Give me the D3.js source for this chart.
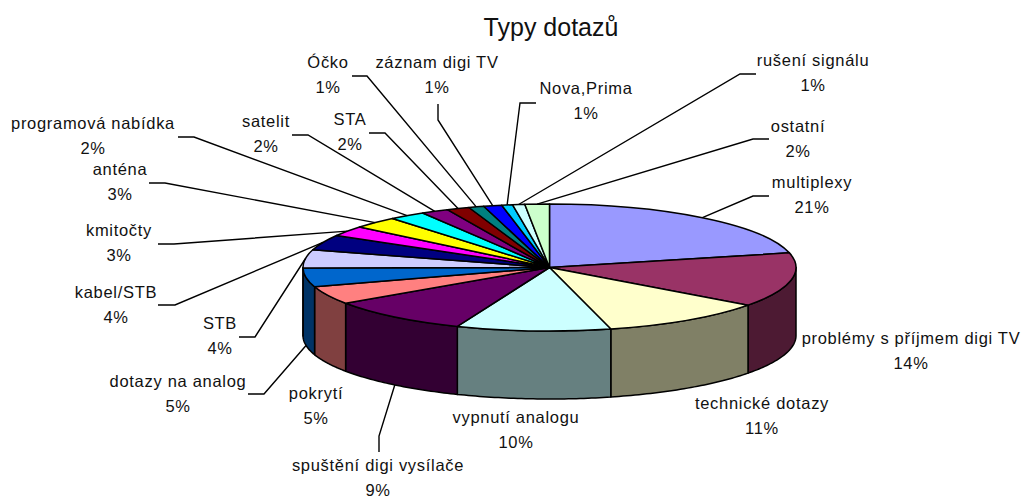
<!DOCTYPE html>
<html>
<head>
<meta charset="utf-8">
<script src="https://cdn.jsdelivr.net/npm/d3@7"></script>
<style>
  body { margin: 0; background: #fff; }
  svg { display: block; }
  text { font-family: "Liberation Sans", Arial, sans-serif; font-size: 16.5px; letter-spacing: 0.7px; fill: #111; text-anchor: middle; }
  .title { font-size: 25px; letter-spacing: 0; }
  .leader { fill: none; stroke: #000; stroke-width: 1.4; }
  .top, .wall { stroke: #000; stroke-width: 1.5; stroke-linejoin: round; }
  .top { vector-effect: non-scaling-stroke; }
</style>
</head>
<body>
<div id="chart"></div>
<script>
/* Typy dotazu - 3D pie */

const categories = ["multiplexy", "problémy s příjmem digi TV", "technické dotazy", "vypnutí analogu",
    "spuštění digi vysílače", "pokrytí", "dotazy na analog", "STB", "kabel/STB", "kmitočty", "anténa",
    "programová nabídka", "satelit", "STA", "Óčko", "záznam digi TV", "Nova,Prima", "rušení signálu", "ostatní"];
const shares = [21.3, 13.8, 10.9, 10.1, 9.4, 4.6, 4.8, 4.6, 3.9, 2.6, 3.0, 2.4, 1.8, 1.5, 1.0, 1.2, 0.7, 0.8, 1.6];
const percents = [21, 14, 11, 10, 9, 5, 5, 4, 4, 3, 3, 2, 2, 2, 1, 1, 1, 1, 2];
const colors = ["#9999ff", "#993366", "#ffffcc", "#ccffff", "#660066", "#ff8080", "#0066cc", "#ccccff", "#000080",
    "#ff00ff", "#ffff00", "#00ffff", "#800080", "#800000", "#008080", "#0000ff", "#00ccff", "#ccffff", "#ccffcc"];

const width = 1023, height = 500;
const cx = 549.5, cy = 267.5, rx = 246.5, ry = 63.5, depth = 68;

// label centre, then leader end + elbow (none for labels next to the pie), onWall = leader starts on the lower edge
const labelPos = [
    { x: 812, y: 182, end: [769, 196], elbow: [753, 196] },
    { x: 911, y: 338 },
    { x: 762, y: 403 },
    { x: 516, y: 417 },
    { x: 378, y: 465, end: [379, 452], elbow: [379, 436], onWall: true },
    { x: 316, y: 393 },
    { x: 178, y: 381, end: [248, 394], elbow: [264, 394], onWall: true },
    { x: 220, y: 323, end: [239, 337], elbow: [255, 337] },
    { x: 116, y: 292, end: [158, 305], elbow: [175, 305] },
    { x: 119, y: 230, end: [158, 244], elbow: [174, 244] },
    { x: 120, y: 169, end: [149, 183], elbow: [165, 183] },
    { x: 93, y: 123, end: [178, 137], elbow: [194, 137] },
    { x: 266, y: 121, end: [292, 135], elbow: [308, 135] },
    { x: 350, y: 119, end: [369, 133], elbow: [385, 133] },
    { x: 328, y: 62, end: [352, 76], elbow: [367, 76] },
    { x: 437, y: 62, end: [438, 104], elbow: [438, 120] },
    { x: 586, y: 88, end: [536, 103], elbow: [520, 103] },
    { x: 813, y: 60, end: [756, 74], elbow: [740, 74] },
    { x: 798, y: 126, end: [769, 139], elbow: [753, 139] }
];

const svg = d3.select("#chart")
    .append("svg")
    .attr("width", width)
    .attr("height", height)
    .attr("viewBox", [0, 0, width, height]);

svg.append("text")
    .attr("class", "title")
    .attr("x", 551)
    .attr("y", 36)
    .text("Typy dotazů");

const slices = d3.pie().sort(null)(shares);

const px = a => cx + rx * Math.sin(a),
    py = a => cy - ry * Math.cos(a);

// side walls, only the front half of the pie shows them
const wallLine = d3.line().x(d => d[0]).y(d => d[1]);

function wallPath(d) {
    const a0 = Math.max(d.startAngle, Math.PI / 2),
        a1 = Math.min(d.endAngle, 3 * Math.PI / 2);
    if (a1 <= a0) return null;
    const angles = d3.range(0, 41).map(i => a0 + (a1 - a0) * i / 40);
    const upper = angles.map(a => [px(a), py(a)]);
    const lower = angles.slice().reverse().map(a => [px(a), py(a) + depth]);
    return wallLine(upper.concat(lower)) + "Z";
}

svg.append("g")
    .selectAll("path")
    .data(slices)
    .join("path")
    .attr("class", "wall")
    .attr("d", wallPath)
    .attr("fill", (d, i) => {
        const c = d3.rgb(colors[i]);
        return d3.rgb(c.r / 2, c.g / 2, c.b / 2);
    });

// top face: round pie squashed into an ellipse
const arc = d3.arc().innerRadius(0).outerRadius(rx);

svg.append("g")
    .attr("transform", `translate(${cx},${cy}) scale(1,${ry / rx})`)
    .selectAll("path")
    .data(slices)
    .join("path")
    .attr("class", "top")
    .attr("d", arc)
    .attr("fill", (d, i) => colors[i]);

// leader lines
const leaderLine = d3.line();

svg.append("g")
    .selectAll("path")
    .data(slices)
    .join("path")
    .attr("class", "leader")
    .attr("d", (d, i) => {
        const p = labelPos[i];
        if (!p.end) return null;
        const mid = (d.startAngle + d.endAngle) / 2;
        return leaderLine([p.end, p.elbow, [px(mid), py(mid) + (p.onWall ? depth : 0)]]);
    });

// labels
const labels = svg.append("g")
    .selectAll("g")
    .data(categories)
    .join("g");

labels.append("text")
    .attr("x", (d, i) => labelPos[i].x)
    .attr("y", (d, i) => labelPos[i].y + 6)
    .text(d => d);

labels.append("text")
    .attr("x", (d, i) => labelPos[i].x)
    .attr("y", (d, i) => labelPos[i].y + 31)
    .text((d, i) => percents[i] + "%");
</script>
</body>
</html>
